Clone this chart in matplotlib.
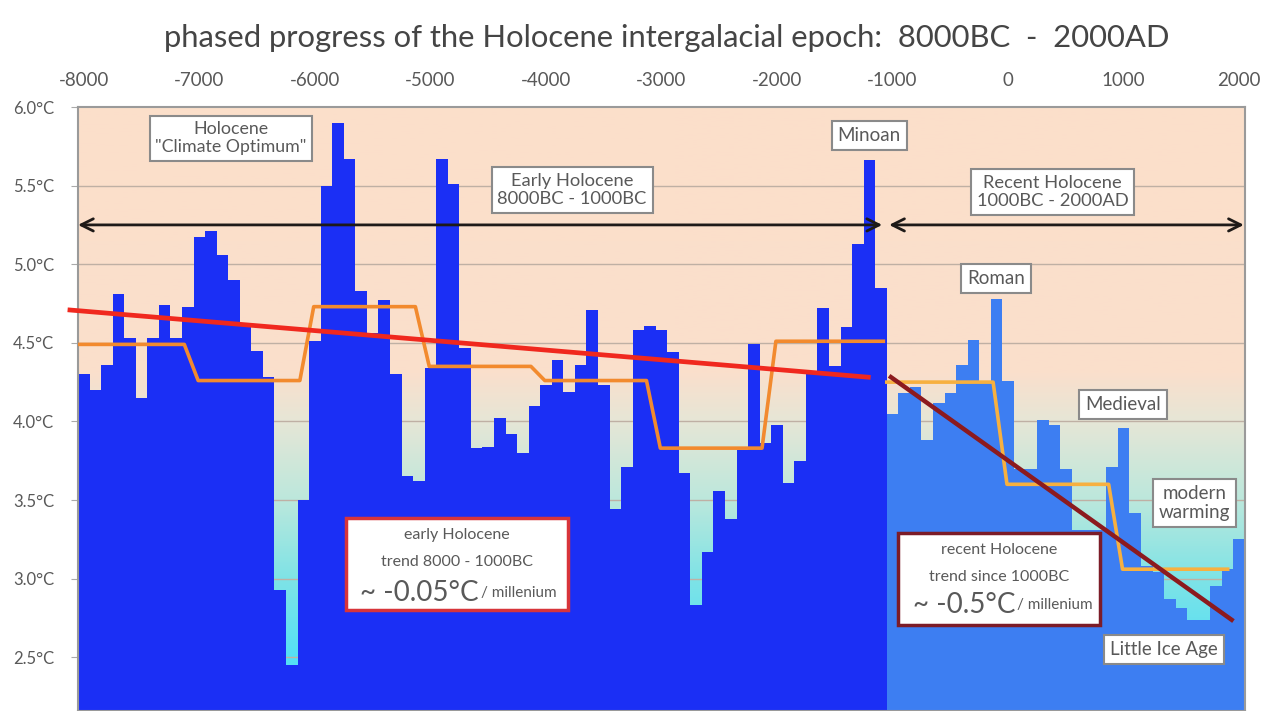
import numpy as np
import matplotlib
matplotlib.use("Agg")
import matplotlib.pyplot as plt
from matplotlib.colors import LinearSegmentedColormap
from matplotlib.patches import Rectangle

plt.rcParams['font.family'] = ['Lato', 'DejaVu Sans']

# century values, 8000BC - 1100BC (early Holocene)
early_years = list(range(-8000, -1000, 100))
early_temp = [4.30, 4.20, 4.36, 4.81, 4.53, 4.15, 4.53, 4.74, 4.53, 4.73,
              5.17, 5.21, 5.06, 4.90, 4.61, 4.45, 4.28, 2.93, 2.45, 3.50,
              4.51, 5.50, 5.90, 5.67, 4.83, 4.56, 4.77, 4.30, 3.65, 3.62,
              4.34, 5.67, 5.51, 4.47, 3.83, 3.84, 4.02, 3.92, 3.80, 4.10,
              4.23, 4.39, 4.19, 4.36, 4.71, 4.23, 3.44, 3.71, 4.58, 4.61,
              4.58, 4.44, 3.67, 2.83, 3.17, 3.56, 3.38, 3.82, 4.49, 3.86,
              3.98, 3.61, 3.75, 4.30, 4.72, 4.35, 4.60, 5.13, 5.66, 4.85]

# century values, 1000BC - 2000AD (recent Holocene)
recent_years = list(range(-1000, 2001, 100))
recent_temp = [4.05, 4.18, 4.22, 3.88, 4.12, 4.18, 4.36, 4.52, 4.26, 4.78,
               4.26, 3.70, 3.70, 4.01, 3.98, 3.70, 3.31, 3.31, 3.31, 3.71,
               3.96, 3.42, 3.08, 3.04, 2.87, 2.81, 2.74, 2.74, 2.95, 3.06,
               3.25]

# millennial means (orange steps)
early_mill_start = [-8000, -7000, -6000, -5000, -4000, -3000, -2000]
early_mill_mean = [4.49, 4.26, 4.73, 4.35, 4.26, 3.83, 4.51]
recent_mill_start = [-1000, 0, 1000]
recent_mill_mean = [4.25, 3.60, 3.06]

# linear trends
early_trend_x = [-8140, -1190]
early_trend_y = [4.71, 4.28]
recent_trend_x = [-1030, 1950]
recent_trend_y = [4.29, 2.73]

yticks = [2.5, 3.0, 3.5, 4.0, 4.5, 5.0, 5.5, 6.0]
xticks = list(range(-8000, 2001, 1000))

txt = '#595959'


def step_path(starts, means, first, last):
    xs, ys = [], []
    for i, (s, m) in enumerate(zip(starts, means)):
        x0 = first if i == 0 else s - 10
        x1 = last if i == len(starts) - 1 else s + 870
        xs += [x0, x1]
        ys += [m, m]
    return xs, ys


fig = plt.figure(figsize=(12.75, 7.11), dpi=100)
ax = fig.add_axes([78 / 1275, 0, 1167 / 1275, 604 / 711])
ax.set_xlim(-8050, 2050)
ax.set_ylim(2.158, 6.0)

# background gradient peach -> cyan
cmap = LinearSegmentedColormap.from_list('bg', [
    (0.0, '#55dff5'), (0.09, '#55dff5'), (0.22, '#7fe3e6'),
    (0.35, '#bce8dc'), (0.48, '#e6e6d6'), (0.56, '#fadfcc'), (1.0, '#fcdfca')])
grad = np.linspace(0, 1, 256).reshape(-1, 1)
ax.imshow(grad, aspect='auto', cmap=cmap, origin='lower',
          extent=[-8050, 2050, 2.158, 6.0], zorder=0)

for v in yticks[:-1]:
    ax.axhline(v, color='#bfb0a4', lw=1.0, zorder=1)

ax.bar(early_years, early_temp, width=100, color='#1b2ff5', zorder=2)
ax.bar(recent_years, recent_temp, width=100, color='#3d7ef2', zorder=2)

ex, ey = step_path(early_mill_start, early_mill_mean, -8050, -1080)
ax.plot(ex, ey, color='#f28a2e', lw=2.6, zorder=3, solid_joinstyle='round')
rx, ry = step_path(recent_mill_start, recent_mill_mean, -1050, 1900)
ax.plot(rx, ry, color='#f7b040', lw=2.6, zorder=3, solid_joinstyle='round')

ax.plot(early_trend_x, early_trend_y, color='#f0281e', lw=3.4, zorder=4,
        clip_on=False, solid_capstyle='butt')
ax.plot(recent_trend_x, recent_trend_y, color='#8c1a1e', lw=3.2, zorder=4,
        solid_capstyle='butt')

arrow = dict(arrowstyle='<->', lw=2.0, color='#1e1a18', mutation_scale=22,
             shrinkA=0, shrinkB=0)
ax.annotate('', xy=(-1090, 5.25), xytext=(-8050, 5.25), arrowprops=arrow, zorder=5)
ax.annotate('', xy=(2040, 5.25), xytext=(-1030, 5.25), arrowprops=arrow, zorder=5)

box = dict(boxstyle='square,pad=0.32', fc='white', ec='#8a8a8a', lw=1.5)
labels = [
    (-6725, 5.80, 'Holocene\n"Climate Optimum"', 12.8),
    (-3773, 5.47, 'Early Holocene\n8000BC - 1000BC', 13.2),
    (-1201, 5.82, 'Minoan', 13.5),
    (383, 5.46, 'Recent Holocene\n1000BC - 2000AD', 13.2),
    (-102, 4.91, 'Roman', 13.5),
    (997, 4.11, 'Medieval', 13.5),
    (1612, 3.48, 'modern\nwarming', 13.5),
    (1352, 2.55, 'Little Ice Age', 13.5),
]
for x, y, s, fs in labels:
    ax.text(x, y, s, ha='center', va='center', fontsize=fs, color=txt,
            bbox=box, zorder=6, linespacing=1.15)

# trend boxes
trend_boxes = [
    (-5730, 2.80, 1922, 0.586, '#d8343a', -4580, 3.28, 3.105, 2.91,
     'early Holocene', 'trend 8000 - 1000BC', '~ -0.05°C'),
    (-951, 2.705, 1749, 0.585, '#7c1c28', 60, 3.18, 3.01, 2.83,
     'recent Holocene', 'trend since 1000BC', '~ -0.5°C'),
]
for x0, y0, w, h, ec, xs, y1, y2, y3, l1, l2, l3 in trend_boxes:
    ax.add_patch(Rectangle((x0, y0), w, h, fc='white', ec=ec, lw=2.5, zorder=6))
    cx = x0 + w / 2
    ax.text(cx, y1, l1, ha='center', va='center', fontsize=11.5, color=txt, zorder=7)
    ax.text(cx, y2, l2, ha='center', va='center', fontsize=11.5, color=txt, zorder=7)
    ax.text(xs, y3, l3, ha='right', va='center', fontsize=20, color=txt, zorder=7)
    ax.text(xs + 15, y3, '/ millenium', ha='left', va='center', fontsize=11,
            color=txt, zorder=7)

ax.xaxis.tick_top()
ax.set_xticks(xticks)
ax.set_xticklabels([str(t) for t in xticks])
ax.tick_params(axis='x', length=0, pad=13, labelsize=13.5, labelcolor=txt)
ax.set_yticks(yticks)
ax.set_yticklabels(['%.1f°C' % v for v in yticks])
ax.tick_params(axis='y', length=5, color='#aaaaaa', pad=12, labelsize=12,
               labelcolor=txt)
for sp in ax.spines.values():
    sp.set_color('#9a9a9a')
    sp.set_linewidth(1.5)

fig.text(667 / 1275, 1 - 38 / 711,
         'phased progress of the Holocene intergalacial epoch:  8000BC  -  2000AD',
         ha='center', va='center', fontsize=22.3, color='#454545')

fig.savefig('out.png', dpi=100)
